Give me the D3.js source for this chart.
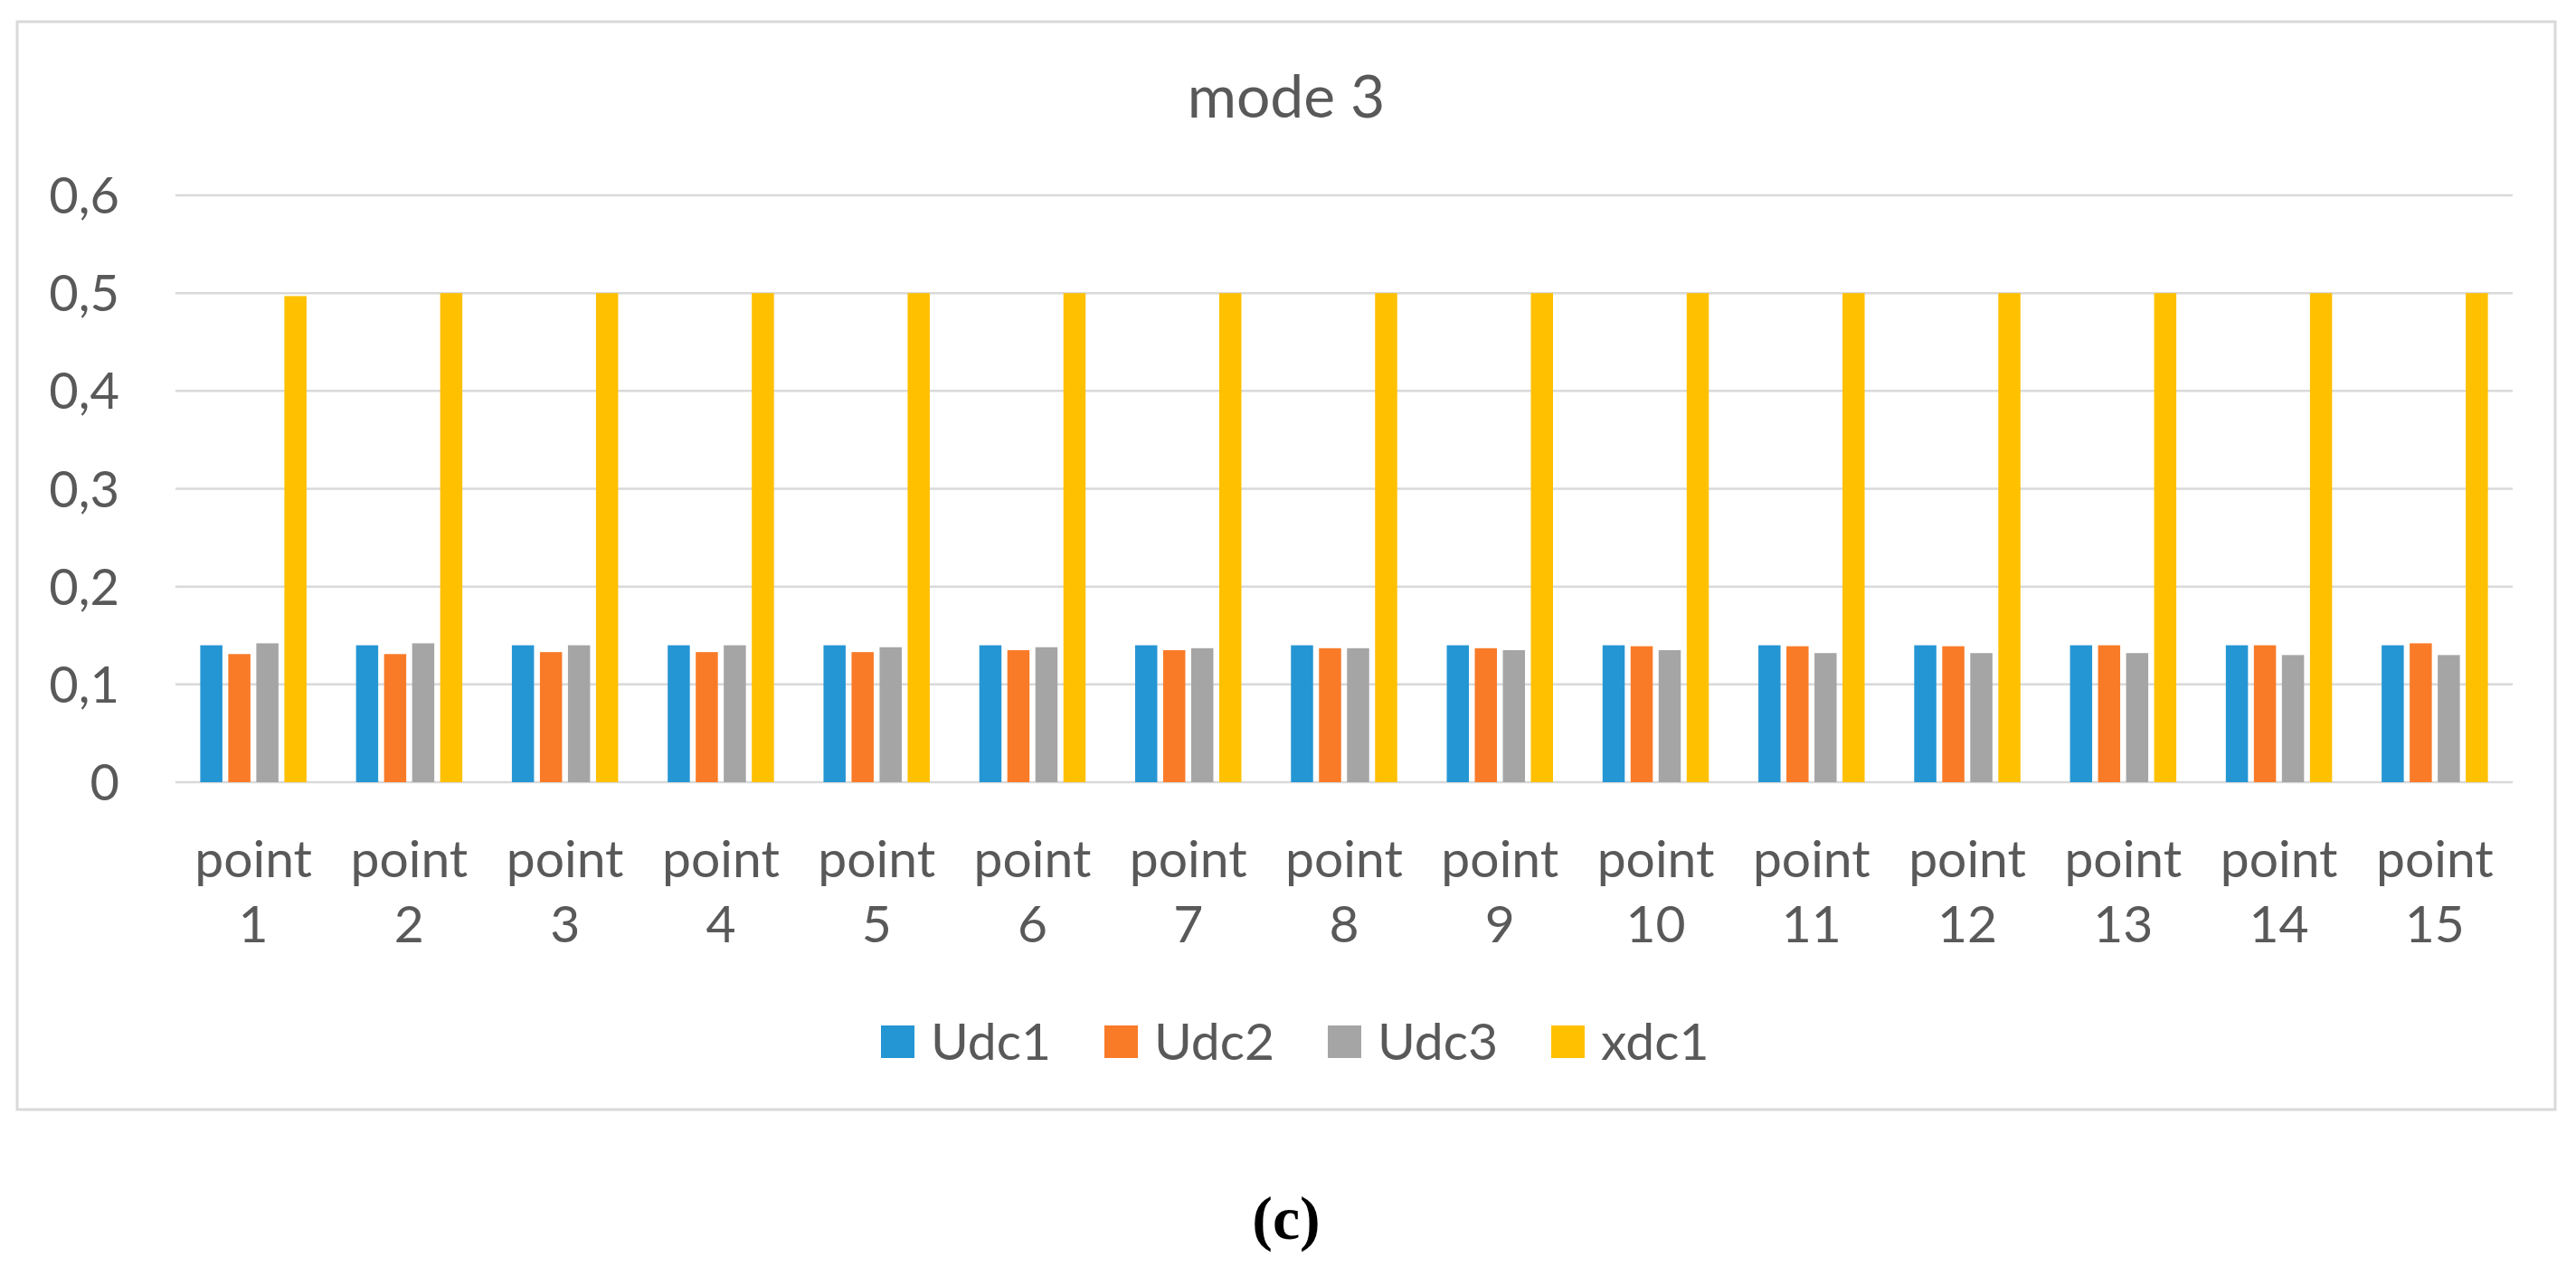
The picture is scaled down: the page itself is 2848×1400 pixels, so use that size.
<!DOCTYPE html>
<html>
<head>
<meta charset="utf-8">
<script src="https://cdn.jsdelivr.net/npm/d3@7"></script>
<style>
  html, body { margin: 0; padding: 0; background: #ffffff; }
  svg { display: block; }
</style>
</head>
<body>
<svg id="chart" width="2848" height="1400"></svg>
<script>
// ---- data ----
const categories = ["point 1","point 2","point 3","point 4","point 5","point 6","point 7","point 8","point 9","point 10","point 11","point 12","point 13","point 14","point 15"];
const seriesNames = ["Udc1","Udc2","Udc3","xdc1"];
const udc1 = [0.140,0.140,0.140,0.140,0.140,0.140,0.140,0.140,0.140,0.140,0.140,0.140,0.140,0.140,0.140];
const udc2 = [0.131,0.131,0.133,0.133,0.133,0.135,0.135,0.137,0.137,0.139,0.139,0.139,0.140,0.140,0.142];
const udc3 = [0.142,0.142,0.140,0.140,0.138,0.138,0.137,0.137,0.135,0.135,0.132,0.132,0.132,0.130,0.130];
const xdc1 = [0.497,0.500,0.500,0.500,0.500,0.500,0.500,0.500,0.500,0.500,0.500,0.500,0.500,0.500,0.500];
const yTicks = [0,0.1,0.2,0.3,0.4,0.5,0.6];
const colors = ["#2596d4","#f97b28","#a5a5a5","#ffc000"];
const title = "mode 3";
const caption = "(c)";

const seriesValues = [udc1, udc2, udc3, xdc1];

// ---- layout ----
const svg = d3.select("#chart");
const W = 2848, H = 1400;
const plot = {left: 194, right: 2778, top: 216, bottom: 865};
const textColor = "#595959";
const font = "Lato, 'Open Sans', sans-serif";

svg.append("rect").attr("x",0).attr("y",0).attr("width",W).attr("height",H).attr("fill","#fff");
// chart frame
svg.append("rect").attr("x",19).attr("y",24).attr("width",2806).attr("height",1203)
  .attr("fill","#fff").attr("stroke","#d9d9d9").attr("stroke-width",3);

const x0 = d3.scaleBand().domain(categories).range([plot.left, plot.right]).paddingInner(0).paddingOuter(0);
const bw = x0.bandwidth();
const x1 = d3.scaleBand().domain(seriesNames).range([bw*0.159, bw*0.841]).paddingInner(0.21).paddingOuter(0);
const y = d3.scaleLinear().domain([0, 0.6]).range([plot.bottom, plot.top]);

// gridlines
svg.append("g").selectAll("line").data(yTicks).join("line")
  .attr("x1", plot.left).attr("x2", plot.right)
  .attr("y1", d => y(d)).attr("y2", d => y(d))
  .attr("stroke", "#d9d9d9").attr("stroke-width", 2.5);

// y axis labels
const fmt = d => d === 0 ? "0" : d3.format(".1f")(d).replace(".", ",");
svg.append("g").selectAll("text").data(yTicks).join("text")
  .attr("x", 132).attr("y", d => y(d)).attr("dy", "0.36em")
  .attr("text-anchor", "end")
  .attr("font-family", font).attr("font-size", 56).attr("fill", textColor)
  .text(fmt);

// bars
const groups = svg.append("g").selectAll("g").data(categories).join("g")
  .attr("transform", d => `translate(${x0(d)},0)`);
groups.selectAll("rect").data((d, i) => seriesNames.map((s, k) => ({s, v: seriesValues[k][i], k})))
  .join("rect")
  .attr("x", d => x1(d.s))
  .attr("width", x1.bandwidth())
  .attr("y", d => y(d.v))
  .attr("height", d => y(0) - y(d.v))
  .attr("fill", d => colors[d.k]);

// x axis labels (two lines)
const xl = svg.append("g").selectAll("text").data(categories).join("text")
  .attr("text-anchor", "middle")
  .attr("font-family", font).attr("font-size", 57).attr("fill", textColor);
xl.append("tspan").attr("x", d => x0(d) + bw/2).attr("y", 970).text(d => d.split(" ")[0]);
xl.append("tspan").attr("x", d => x0(d) + bw/2).attr("y", 1042).text(d => d.split(" ")[1]);

// title
svg.append("text").attr("x", 1422).attr("y", 130).attr("text-anchor", "middle")
  .attr("font-family", font).attr("font-size", 66).attr("fill", textColor).text(title);

// legend
const legendX = 974, legendPitch = 247;
const lg = svg.append("g").selectAll("g").data(seriesNames).join("g")
  .attr("transform", (d, i) => `translate(${legendX + i*legendPitch},0)`);
lg.append("rect").attr("x", 0).attr("y", 1134).attr("width", 37).attr("height", 36)
  .attr("fill", (d, i) => colors[i]);
lg.append("text").attr("x", 55).attr("y", 1172)
  .attr("font-family", font).attr("font-size", 57).attr("fill", textColor).text(d => d);

// caption
svg.append("text").attr("x", 1422).attr("y", 1370).attr("text-anchor", "middle")
  .attr("font-family", "'Liberation Serif', 'DejaVu Serif', serif").attr("font-weight", "bold")
  .attr("font-size", 68).attr("fill", "#000").text(caption);
</script>
</body>
</html>
